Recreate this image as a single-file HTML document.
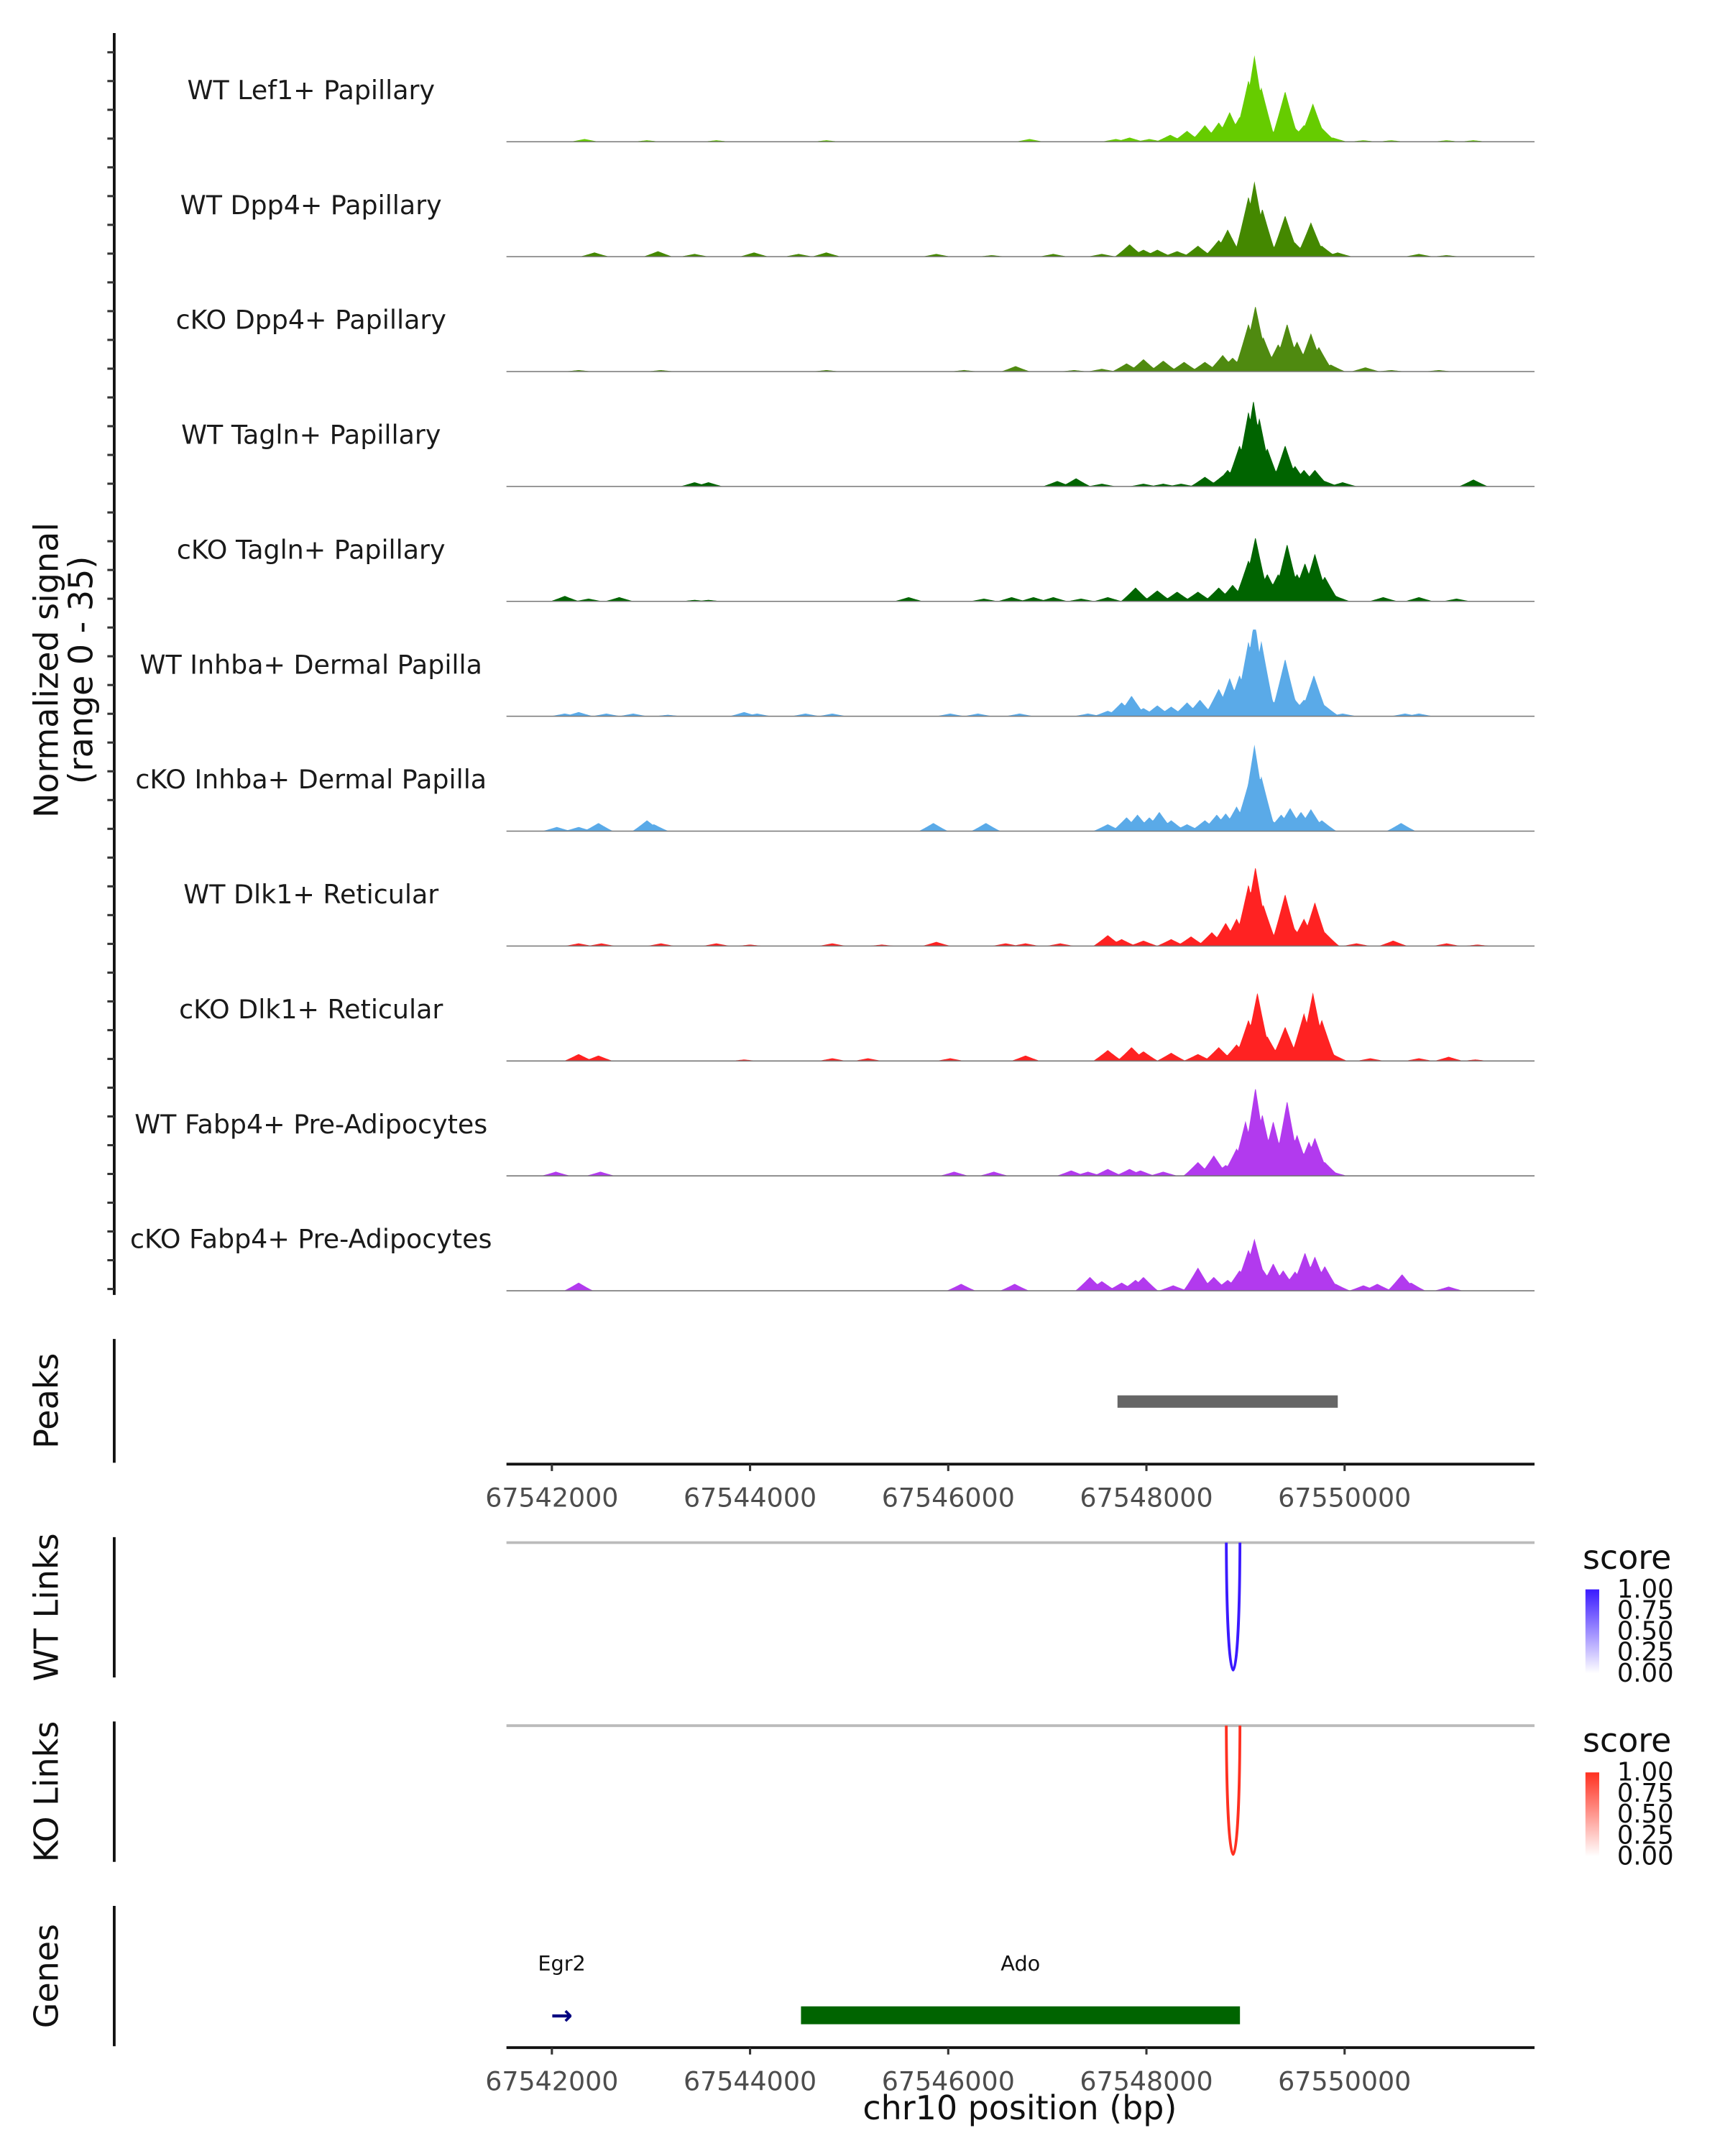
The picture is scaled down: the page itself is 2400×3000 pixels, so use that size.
<!DOCTYPE html>
<html><head><meta charset="utf-8">
<style>
html,body{margin:0;padding:0;background:#fff;}
svg{display:block;}
text{font-family:"DejaVu Sans","Liberation Sans",sans-serif;}
</style></head>
<body>
<svg id="chart" width="2400" height="3000" viewBox="0 0 1253.4 1566.75" preserveAspectRatio="none" xmlns="http://www.w3.org/2000/svg">
<rect width="1253.4" height="1566.75" fill="#fff"/>
<g id="tracks"></g>
<g id="axes"></g>
</svg>
<script>
// ---- data ----
const regionStartKb = 67540;
const trackNames = ["WT Lef1+ Papillary","WT Dpp4+ Papillary","cKO Dpp4+ Papillary","WT Tagln+ Papillary","cKO Tagln+ Papillary","WT Inhba+ Dermal Papilla","cKO Inhba+ Dermal Papilla","WT Dlk1+ Reticular","cKO Dlk1+ Reticular","WT Fabp4+ Pre-Adipocytes","cKO Fabp4+ Pre-Adipocytes"];
const trackColors = ["#66cc00","#448800","#4f8a10","#006400","#006400","#5aaae8","#5aaae8","#ff2222","#ff2222","#b23aee","#b23aee"];
// positions (kb offset from regionStartKb), signal values (0-35)
const pos1 = [2.33,2.96,3.66,4.77,6.82,7.69,7.83,8.03,8.24,8.41,8.59,8.73,8.84,8.94,9.03,9.09,9.16,9.23,9.40,9.50,9.59,9.68,9.77,9.88,10.19,10.47,11.03,11.30];
const val1 = [1.1,0.6,0.6,0.6,1.1,1.1,1.7,1.1,2.8,4.4,6.7,7.8,12,10,25,35,22,4.4,20.5,5.6,6.7,15.5,5.6,1.7,0.6,0.6,0.6,0.6];
const pos2 = [2.43,3.07,3.44,4.04,4.49,4.77,5.88,6.44,7.06,7.55,7.83,7.97,8.11,8.31,8.52,8.73,8.82,9.03,9.09,9.17,9.40,9.50,9.66,9.77,9.93,10.75,11.03];
const val2 = [1.7,2.2,1.1,1.7,1.1,1.7,1.1,0.6,1.1,1.1,5,2.8,2.8,2.2,4.4,6.7,11,24.4,30.5,19.4,16.7,5.6,13.9,4.4,1.7,1.1,0.6];
const pos3 = [2.27,3.10,4.77,6.16,6.68,7.27,7.55,7.80,7.97,8.17,8.38,8.59,8.77,8.87,9.03,9.10,9.18,9.33,9.42,9.52,9.66,9.74,9.86,10.21,10.47,10.95];
const val3 = [0.6,0.6,0.6,0.6,2.2,0.6,1.1,3.3,5,4.4,3.9,3.9,6.7,5.6,19.4,26.7,13.9,11.1,19.4,12.2,15.5,10,2.8,1.7,0.6,0.6];
const pos4 = [3.44,3.58,7.10,7.29,7.55,7.97,8.17,8.35,8.59,8.77,8.82,8.94,9.03,9.08,9.14,9.22,9.40,9.50,9.59,9.70,9.80,9.98,11.30];
const val4 = [1.7,1.7,2.2,3.3,1.1,1.1,1.1,1.1,3.9,4.4,6.7,16.7,30.5,35,27.8,15.5,16.7,8.3,6.7,6.7,2.2,1.7,2.8];
const pos5 = [2.13,2.37,2.68,3.44,3.58,5.60,6.36,6.64,6.86,7.06,7.34,7.61,7.89,8.11,8.31,8.52,8.73,8.87,9.03,9.10,9.22,9.33,9.42,9.52,9.60,9.70,9.80,9.91,10.39,10.75,11.13];
const val5 = [2.2,1.1,1.7,0.6,0.6,1.7,1.1,1.7,1.7,1.7,1.1,1.7,5.6,4.4,3.9,3.9,5.6,6.7,16.7,26.1,11.1,11.1,23.3,11.1,15.5,19.4,10,2.2,1.7,1.7,1.1];
const pos6 = [2.13,2.27,2.55,2.82,3.17,3.94,4.07,4.56,4.83,6.02,6.30,6.72,7.41,7.61,7.75,7.85,7.97,8.11,8.25,8.41,8.54,8.73,8.84,8.94,9.03,9.09,9.16,9.24,9.40,9.50,9.59,9.69,9.80,9.98,10.61,10.75];
const val6 = [1.1,1.7,1.1,1.1,0.6,1.7,1.1,1.1,1.1,1.1,1.1,1.1,1.1,2.2,5.6,8.3,3.3,4.4,3.9,5.6,6.7,11.1,15.5,16.7,30.5,40,30.5,8.3,23.3,6.7,6.7,16.7,4.4,1.1,1.1,1.1];
const pos7 = [2.05,2.27,2.47,2.96,3.03,5.85,6.38,7.61,7.80,7.91,8.03,8.13,8.25,8.41,8.59,8.71,8.80,8.91,9.03,9.09,9.16,9.24,9.36,9.45,9.56,9.66,9.77,10.57];
const val7 = [1.7,1.7,3.3,4.4,2.8,3.3,3.3,2.8,5.6,6.7,5.6,7.8,4.4,2.8,4.4,6.7,7.2,10,19.4,35,22.2,5.6,6.7,9.4,7.8,8.9,4.4,3.3];
const pos8 = [2.27,2.50,3.10,3.66,4.00,4.83,5.33,5.88,6.58,6.78,7.13,7.61,7.75,7.97,8.25,8.45,8.66,8.80,8.91,9.03,9.10,9.18,9.40,9.50,9.59,9.70,9.80,10.12,10.49,11.03,11.34];
const val8 = [1.1,1.1,1.1,1.1,0.6,1.1,0.6,1.7,1.1,1.1,1.1,4.4,2.8,2.2,2.8,3.9,5.6,9.4,11.1,25,32.2,16.7,21.1,6.7,11.1,17.8,5.6,1.1,2.2,1.1,0.6];
const pos9 = [2.27,2.47,3.94,4.83,5.19,6.02,6.78,7.61,7.85,7.97,8.25,8.52,8.73,8.91,9.03,9.12,9.22,9.40,9.50,9.59,9.68,9.77,9.88,10.26,10.75,11.05,11.32];
const val9 = [2.8,2.2,0.6,1.1,1.1,1.1,2.2,4.4,5.6,3.9,3.3,2.8,5.6,6.7,16.7,27.8,10,13.9,5.6,19.4,27.8,16.7,2.8,1.1,1.1,1.7,0.6];
const pos10 = [2.04,2.49,6.06,6.46,7.24,7.41,7.61,7.83,7.94,8.17,8.52,8.68,8.80,8.91,9.00,9.10,9.17,9.28,9.42,9.52,9.64,9.70,9.80,9.88];
const val10 = [1.7,1.7,1.7,1.7,2.2,1.7,2.8,2.8,2.2,1.7,5.6,8.3,4.4,11.1,22.2,36,25,22.2,30.5,16.7,13.9,15.5,5.6,1.7];
const pos11 = [2.27,6.13,6.67,7.43,7.55,7.75,7.89,7.97,8.27,8.52,8.68,8.82,8.94,9.03,9.09,9.18,9.28,9.38,9.50,9.60,9.70,9.80,9.91,10.19,10.33,10.58,10.67,11.05];
const val11 = [3.3,2.8,2.8,5.6,3.9,3.3,4.4,5.6,2.2,9.4,5.6,4.4,8.3,16.7,21.1,8.3,11.1,8.3,7.8,15.5,13.9,10,2.8,2.2,2.8,6.7,3.3,1.7];
const trackPos = [pos1,pos2,pos3,pos4,pos5,pos6,pos7,pos8,pos9,pos10,pos11];
const trackVal = [val1,val2,val3,val4,val5,val6,val7,val8,val9,val10,val11];
const xTicks = [67542000,67544000,67546000,67548000,67550000];
const peakStart = 67547708, peakEnd = 67549931;
const linkStart = 67548806, linkEnd = 67548944, linkScore = 1.0;
const geneNames = ["Egr2","Ado"];
const geneStarts = [67542000,67544514];
const geneEnds = [67542200,67548944];
const legendTicks = ["1.00","0.75","0.50","0.25","0.00"];
const signalMax = 35;

// ---- scales ----
const X0 = 368, X1 = 1115;
function xScale(bp){ return 401 + (bp - 67542000) * 0.072; }
function bpAt(px){ return 67542000 + (px - 401) / 0.072; }
const NS = "http://www.w3.org/2000/svg";
const svg = document.getElementById('chart');
const gT = document.getElementById('tracks');
const gA = document.getElementById('axes');
function mk(tag, attrs, parent){ const e=document.createElementNS(NS,tag); for(const k in attrs) e.setAttribute(k,attrs[k]); (parent||svg).appendChild(e); return e; }

const baseY0 = 103, trackStep = 83.5, trackH = 63;
trackNames.forEach((name,i)=>{
  const base = baseY0 + i*trackStep;
  const yS = v => base - Math.min(v,signalMax)/signalMax*trackH;
  const P = trackPos[i], V = trackVal[i];
  let d = `M${X0},${base}`;
  for(let px=X0; px<=X1; px+=0.5){
    const kb = bpAt(px)/1000 - regionStartKb;
    let v = 0;
    for(let j=0;j<P.length;j++){
      const dist = Math.abs(kb-P[j])/0.15;
      if(dist<1){ const s=V[j]*Math.pow(1-dist,1.1); if(s>v) v=s; }
    }
    d += `L${px},${yS(v).toFixed(2)}`;
  }
  d += `L${X1},${base}Z`;
  const area = mk('path',{d:d,fill:trackColors[i],stroke:'none'},gT);
  
  
  const bl = mk('line',{x1:X0,x2:X1,y1:base,y2:base,stroke:'#777','stroke-width':0.8},gT);
  
  
  const lab = mk('text',{x:226,y:base-31,'text-anchor':'middle','font-size':19,fill:'#1a1a1a'},gT);
  lab.textContent = name;
  
  
});

// y axis for tracks
const ya = mk('line',{x1:83,x2:83,y1:24,y2:941,stroke:'#111','stroke-width':2},gA);


for(let y=38;y<=940;y+=20.9){
  const t = mk('line',{x1:78,x2:83,y1:y,y2:y,stroke:'#333','stroke-width':1.6},gA);
  
  
}
function vtitle(lines, cx, cy, name){
  const t = mk('text',{transform:`translate(${cx},${cy}) rotate(-90)`,'text-anchor':'middle','font-size':24,fill:'#111'},gA);
  lines.forEach((l,k)=>{ const s=mk('tspan',{x:0,dy:k==0?0:25},t); s.textContent=l; });
  
  
}
vtitle(["Normalized signal","(range 0 - 35)"],42,487,'y-axis-title');
vtitle(["Peaks"],42,1018,'peaks-title');
vtitle(["WT Links"],42,1168,'wt-links-title');
vtitle(["KO Links"],42,1302,'ko-links-title');
vtitle(["Genes"],42,1436,'genes-title');
[[973,1063],[1117,1219],[1251,1353],[1385,1487]].forEach(r=>{
  const l = mk('line',{x1:83,x2:83,y1:r[0],y2:r[1],stroke:'#111','stroke-width':2},gA);
  
  
});

// peaks
const pk = mk('rect',{x:xScale(peakStart),y:1014,width:xScale(peakEnd)-xScale(peakStart),height:9,fill:'#666'},gA);



// x axes
function xAxis(y, name){
  const l = mk('line',{x1:X0,x2:X1,y1:y,y2:y,stroke:'#111','stroke-width':2},gA);
  
  
  xTicks.forEach(v=>{
    const t = mk('line',{x1:xScale(v),x2:xScale(v),y1:y,y2:y+5,stroke:'#333','stroke-width':1.6},gA);
    
    
    const tx = mk('text',{x:xScale(v),y:y+31,'text-anchor':'middle','font-size':19,fill:'#4d4d4d'},gA);
    tx.textContent = v;
    
    
  });
}
xAxis(1064,'peaks-x-axis');
xAxis(1488,'genes-x-axis');
const xt = mk('text',{x:741,y:1540,'text-anchor':'middle','font-size':24,fill:'#111'},gA);
xt.textContent = 'chr10 position (bp)';



// links
function linkPanel(top, bottom, color, gid, name){
  const g = mk('line',{x1:X0,x2:X1,y1:top,y2:top,stroke:'#bbb','stroke-width':2},gA);
  
  
  const a = xScale(linkStart), b = xScale(linkEnd);
  const depth = (bottom-top)*linkScore;
  const c = mk('path',{d:`M${a},${top} C${a+0.5},${top+depth*1.3} ${b-0.5},${top+depth*1.3} ${b},${top}`,fill:'none',stroke:color,'stroke-width':2},gA);
  
  
  const defs = mk('defs',{},gA);
  const lg = mk('linearGradient',{id:gid,x1:0,y1:1,x2:0,y2:0},defs);
  mk('stop',{offset:0,'stop-color':'#fff'},lg);
  mk('stop',{offset:1,'stop-color':color},lg);
  const st = mk('text',{x:1150,y:top+19,'font-size':24,fill:'#111'},gA);
  st.textContent='score';
  
  
  const barTop = top+34, barH = 61;
  const r = mk('rect',{x:1152,y:barTop,width:10,height:barH,fill:`url(#${gid})`},gA);
  
  
  legendTicks.forEach((t,k)=>{
    const y = barTop + k*barH/4;
    const tx = mk('text',{x:1175,y:y+6,'font-size':18.5,fill:'#111'},gA);
    tx.textContent=t;
    
    
  });
}
linkPanel(1121,1216,'#3a1aff','gblue','wt-links');
linkPanel(1254,1350,'#ff3020','gred','ko-links');

// genes
const ar = mk('text',{x:(xScale(geneStarts[0])+xScale(geneEnds[0]))/2,y:1471,'text-anchor':'middle','font-size':19,'font-weight':'bold',fill:'#000080'},gA);
ar.textContent='\u2192';


const gb = mk('rect',{x:xScale(geneStarts[1]),y:1458,width:xScale(geneEnds[1])-xScale(geneStarts[1]),height:13,fill:'#006400'},gA);


geneNames.forEach((n,k)=>{
  const cx = (xScale(geneStarts[k])+xScale(geneEnds[k]))/2;
  const t = mk('text',{x:cx,y:1432,'text-anchor':'middle','font-size':15,fill:'#111'},gA);
  t.textContent=n;
  
  
});
</script>
</body></html>
